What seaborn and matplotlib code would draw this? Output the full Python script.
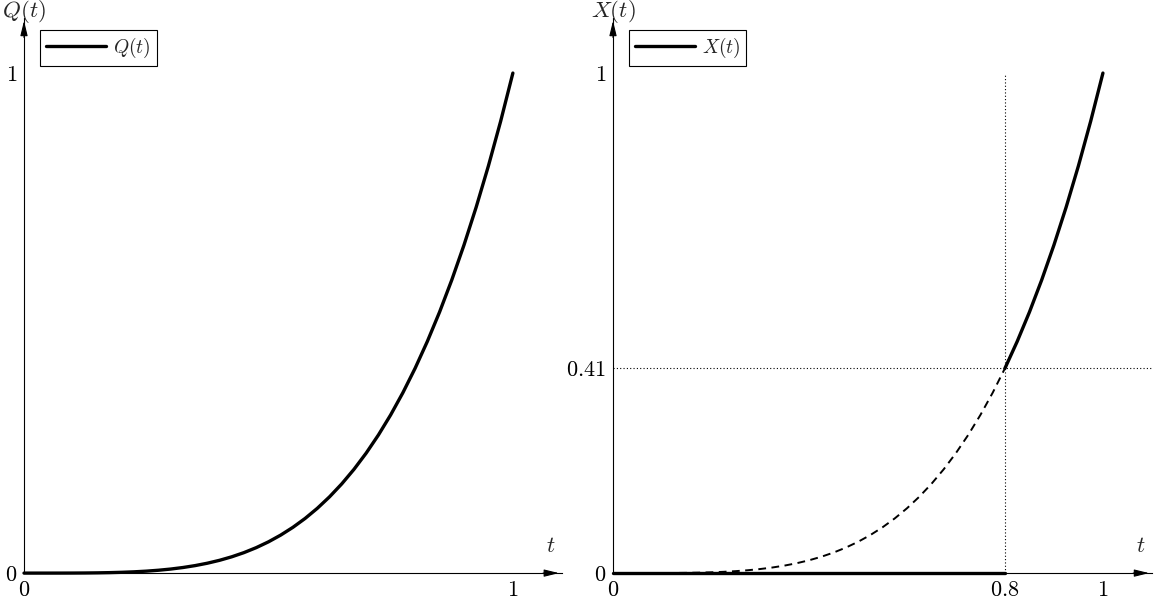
import pandas as pd
import seaborn as sns
import matplotlib.pyplot as plt

# values
t_vals = [0.0, 0.025, 0.05, 0.075, 0.1, 0.125, 0.15, 0.175, 0.2, 0.225, 0.25,
          0.275, 0.3, 0.325, 0.35, 0.375, 0.4, 0.425, 0.45, 0.475, 0.5,
          0.525, 0.55, 0.575, 0.6, 0.625, 0.65, 0.675, 0.7, 0.725, 0.75,
          0.775, 0.8, 0.825, 0.85, 0.875, 0.9, 0.925, 0.95, 0.975, 1.0]
q_vals = [0.0, 0.0, 0.00001, 0.00003, 0.0001, 0.00024, 0.00051, 0.00094, 0.0016, 0.00256, 0.0039,
          0.00572, 0.0081, 0.01116, 0.0150, 0.01978, 0.0256, 0.03263, 0.0410, 0.05091, 0.0625,
          0.07597, 0.0915, 0.10931, 0.1296, 0.15259, 0.1785, 0.20759, 0.2401, 0.27628, 0.3164,
          0.36075, 0.4096, 0.46325, 0.5220, 0.58618, 0.6561, 0.73209, 0.8145, 0.90369, 1.0]
t_switch = 0.8
x_switch = 0.41

left_xticks = [0, 1]
left_xlabels = ["$0$", "$1$"]
left_yticks = [0, 1]
left_ylabels = ["$0$", "$1$"]
right_xticks = [0, 0.8, 1]
right_xlabels = ["$0$", "$0.8$", "$1$"]
right_yticks = [0, 0.41, 1]
right_ylabels = ["$0$", "$0.41$", "$1$"]


def style_axes(ax, xticks, xlabels, yticks, ylabels, ylab):
    ax.set_xlim(0, 1.1)
    ax.set_ylim(0, 1.11)
    for s in ["top", "right"]:
        ax.spines[s].set_visible(False)
    for s in ["left", "bottom"]:
        ax.spines[s].set_linewidth(0.8)
        ax.spines[s].set_color("black")
    ax.set_xticks(xticks)
    ax.set_xticklabels(xlabels)
    ax.set_yticks(yticks)
    ax.set_yticklabels(ylabels)
    ax.tick_params(direction="in", length=4, width=0.8, labelsize=16, pad=5, colors="black")
    ax.set_xlabel("")
    ax.set_ylabel("")
    arrow = dict(arrowstyle="-|>,head_length=0.9,head_width=0.22", color="black", lw=0.8)
    ax.annotate("", xy=(1, 0), xycoords=("axes fraction", "data"),
                xytext=(0.96, 0), textcoords=("axes fraction", "data"), arrowprops=arrow)
    ax.annotate("", xy=(0, 1), xycoords=("data", "axes fraction"),
                xytext=(0, 0.96), textcoords=("data", "axes fraction"), arrowprops=arrow)
    ax.text(0, 1.012, ylab, transform=ax.get_xaxis_transform(), ha="center", va="center", fontsize=16.5)
    ax.text(1.077, 0.055, "$t$", ha="center", va="center", fontsize=16.5)
    leg = ax.legend(loc="upper left", bbox_to_anchor=(0.03, 0.978), borderaxespad=0,
                    fancybox=False, edgecolor="black", framealpha=1, fontsize=14,
                    handlelength=3.1, handletextpad=0.35, borderpad=0.3)
    leg.get_frame().set_linewidth(0.8)
    for line in ax.get_lines():
        line.set_clip_on(False)


sns.set_style("white")
plt.rcParams["mathtext.fontset"] = "cm"

fig = plt.figure(figsize=(11.54, 6.02), dpi=100)
ax1 = fig.add_axes([0.0208, 0.048, 0.466, 0.922])
ax2 = fig.add_axes([0.5312, 0.048, 0.467, 0.922])

q_df = pd.DataFrame({"t": t_vals, "q": q_vals})

# left: Q(t)
sns.lineplot(data=q_df, x="t", y="q", ax=ax1, color="black", linewidth=2.4, label="$Q(t)$", zorder=3)
style_axes(ax1, left_xticks, left_xlabels, left_yticks, left_ylabels, "$Q(t)$")

# right: X(t)
low = q_df[q_df["t"] <= t_switch]
high = q_df[q_df["t"] >= t_switch]
zero_df = pd.DataFrame({"t": [0, t_switch], "q": [0, 0]})
ax2.axhline(x_switch, color="black", lw=0.8, ls=(0, (1, 2)))
ax2.plot([t_switch, t_switch], [0, 1], color="black", lw=0.8, ls=(0, (1, 2)))
sns.lineplot(data=low, x="t", y="q", ax=ax2, color="black", linewidth=1.4, linestyle=(0, (4, 2.8)))
sns.lineplot(data=zero_df, x="t", y="q", ax=ax2, color="black", linewidth=2.4, label="$X(t)$", zorder=3)
sns.lineplot(data=high, x="t", y="q", ax=ax2, color="black", linewidth=2.4, zorder=3)
style_axes(ax2, right_xticks, right_xlabels, right_yticks, right_ylabels, "$X(t)$")

fig.savefig("out.png", dpi=100)
